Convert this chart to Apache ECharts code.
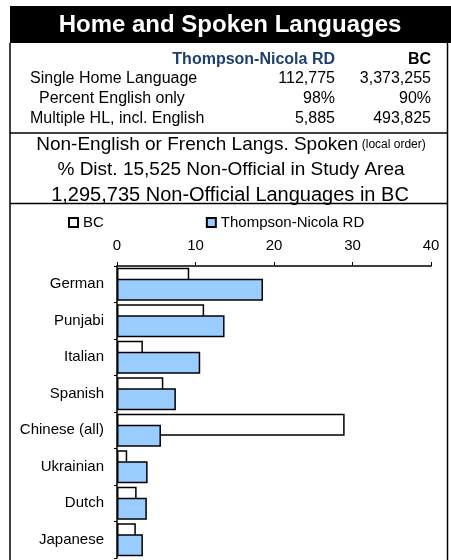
<!DOCTYPE html>
<html>
<head>
<meta charset="utf-8">
<script src="https://cdn.jsdelivr.net/npm/echarts@6/dist/echarts.min.js"></script>
<style>
  html, body { margin: 0; padding: 0; background: #fff; }
  #main { width: 451px; height: 560px; }
</style>
</head>
<body>
<div id="main"></div>
<script>
// summary table
var rowLabels = ['Single Home Language', 'Percent English only', 'Multiple HL, incl. English'];
var rowLabelX = [30, 39, 30];
var tnValues = ['112,775', '98%', '5,885'];
var bcValues = ['3,373,255', '90%', '493,825'];

// bar chart data (% distribution of non-official languages)
var languages = ['German', 'Punjabi', 'Italian', 'Spanish', 'Chinese (all)', 'Ukrainian', 'Dutch', 'Japanese'];
var bcShare = [9.2, 11.1, 3.3, 5.9, 29.0, 1.3, 2.5, 2.4];
var tnShare = [18.6, 13.7, 10.6, 7.5, 5.6, 3.9, 3.8, 3.3];
var xTicks = [0, 10, 20, 30, 40];

var font = '"Liberation Sans", Arial, sans-serif';
var chart = echarts.init(document.getElementById('main'));

var graphics = [
  // black title bar
  { type: 'rect', shape: { x: 10, y: 6, width: 441, height: 37 }, style: { fill: '#000' } },
  { type: 'text', x: 230, y: 25, style: { text: 'Home and Spoken Languages', fill: '#fff', font: 'bold 24px ' + font, textAlign: 'center', textVerticalAlign: 'middle' } },
  // box borders
  { type: 'polyline', shape: { points: [[10, 43], [10, 560]] }, style: { stroke: '#000', lineWidth: 1.5 } },
  { type: 'polyline', shape: { points: [[447.5, 43], [447.5, 560]] }, style: { stroke: '#000', lineWidth: 1.5 } },
  { type: 'line', shape: { x1: 10, y1: 133, x2: 448, y2: 133 }, style: { stroke: '#000', lineWidth: 1.5 } },
  { type: 'line', shape: { x1: 10, y1: 203.5, x2: 448, y2: 203.5 }, style: { stroke: '#000', lineWidth: 1.5 } },
  // column headers
  { type: 'text', x: 335, y: 60, style: { text: 'Thompson-Nicola RD', fill: '#1f3f73', font: 'bold 16px ' + font, textAlign: 'right', textVerticalAlign: 'middle' } },
  { type: 'text', x: 431, y: 60, style: { text: 'BC', fill: '#000', font: 'bold 16px ' + font, textAlign: 'right', textVerticalAlign: 'middle' } },
  // subtitle lines
  { type: 'text', x: 231, y: 145, style: {
      text: '{a|Non-English or French Langs. Spoken} {b|(local order)}',
      textAlign: 'center', textVerticalAlign: 'middle',
      rich: { a: { fontSize: 19, fontFamily: font, fill: '#000' }, b: { fontSize: 12, fontFamily: font, fill: '#000' } } } },
  { type: 'text', x: 231, y: 170, style: { text: '% Dist. 15,525 Non-Official in Study Area', fill: '#000', font: '19px ' + font, textAlign: 'center', textVerticalAlign: 'middle' } },
  { type: 'text', x: 230, y: 195, style: { text: '1,295,735 Non-Official Languages in BC', fill: '#000', font: '20px ' + font, textAlign: 'center', textVerticalAlign: 'middle' } }
];

rowLabels.forEach(function (lab, i) {
  var y = 79 + i * 20;
  graphics.push({ type: 'text', x: rowLabelX[i], y: y, style: { text: lab, fill: '#000', font: '16px ' + font, textVerticalAlign: 'middle' } });
  graphics.push({ type: 'text', x: 335, y: y, style: { text: tnValues[i], fill: '#000', font: '16px ' + font, textAlign: 'right', textVerticalAlign: 'middle' } });
  graphics.push({ type: 'text', x: 431, y: y, style: { text: bcValues[i], fill: '#000', font: '16px ' + font, textAlign: 'right', textVerticalAlign: 'middle' } });
});

var option = {
  animation: false,
  textStyle: { fontFamily: font },
  graphic: graphics,
  legend: {
    left: 63, top: 210,
    itemWidth: 9, itemHeight: 9, itemGap: 102,
    icon: 'rect',
    textStyle: { fontSize: 15, color: '#000', fontFamily: font },
    data: ['BC', 'Thompson-Nicola RD']
  },
  grid: { left: 117, top: 266, right: 20, bottom: 2 },
  xAxis: {
    type: 'value', position: 'top',
    min: xTicks[0], max: xTicks[xTicks.length - 1], interval: 10,
    axisLine: { show: true, lineStyle: { color: '#000', width: 1.5 } },
    axisTick: { show: true, length: 4, lineStyle: { color: '#000' } },
    axisLabel: { fontSize: 15, color: '#000', margin: 13 },
    splitLine: { show: false }
  },
  yAxis: {
    type: 'category', inverse: true, data: languages,
    axisLine: { show: true, lineStyle: { color: '#000', width: 1.5 } },
    axisTick: { show: true, length: 3, lineStyle: { color: '#000' } },
    axisLabel: { fontSize: 15, color: '#000', margin: 13 }
  },
  series: [
    { name: 'BC', type: 'bar', data: bcShare, barGap: '-50%', barCategoryGap: '10%',
      itemStyle: { color: '#fff', borderColor: '#000', borderWidth: 1.5 } },
    { name: 'Thompson-Nicola RD', type: 'bar', data: tnShare, barGap: '-50%', barCategoryGap: '10%',
      itemStyle: { color: '#99ccff', borderColor: '#000', borderWidth: 1.5 } }
  ]
};
chart.setOption(option);
</script>
</body>
</html>
